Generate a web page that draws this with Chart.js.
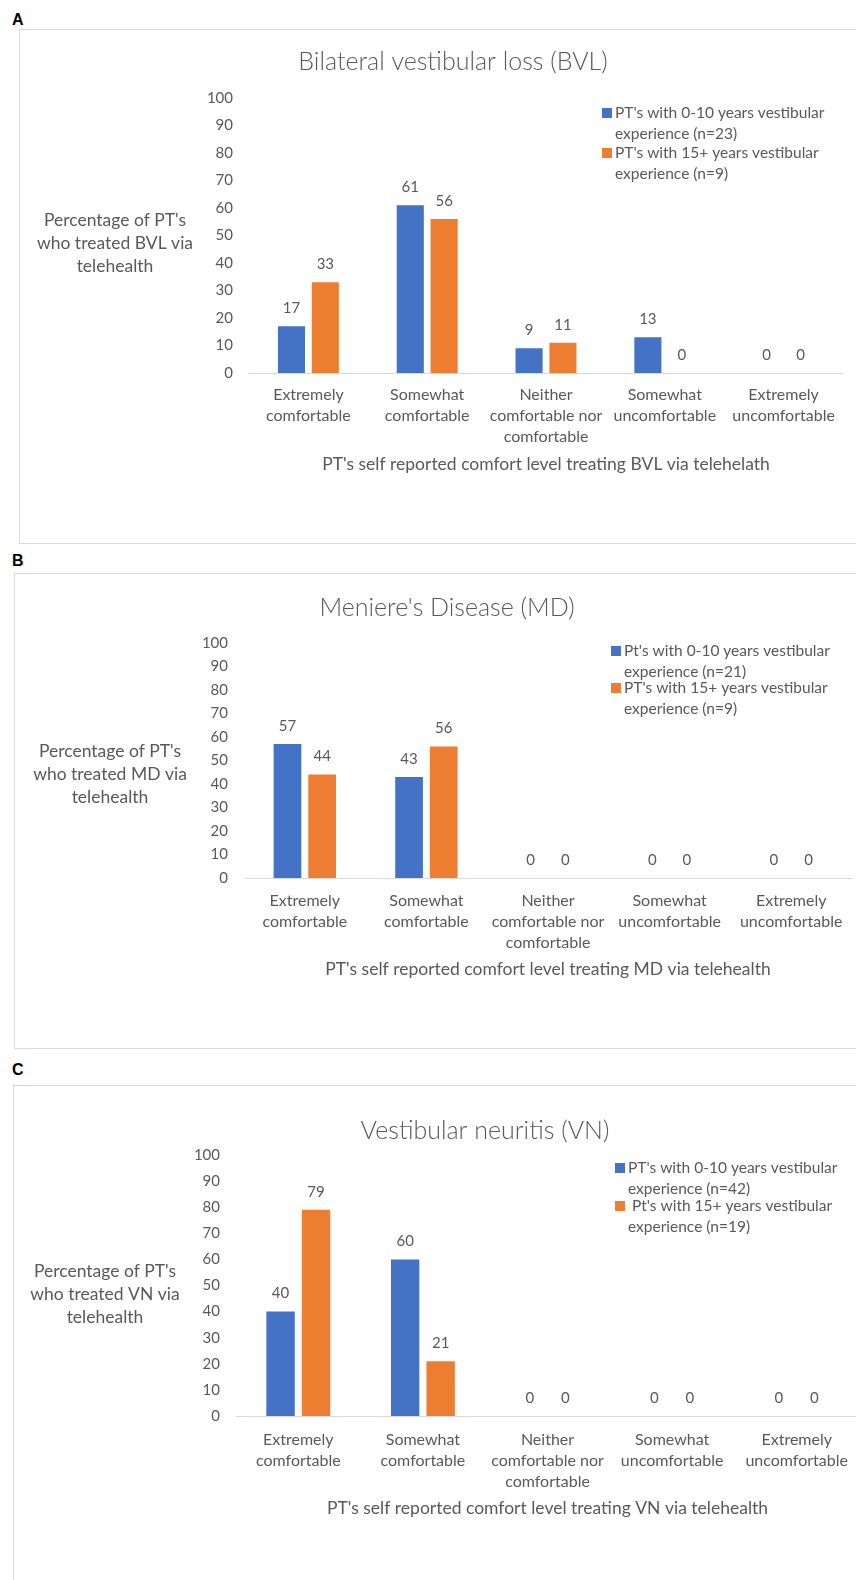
<!DOCTYPE html>
<html>
<head>
<meta charset="utf-8">
<title>PT comfort treating vestibular disorders via telehealth</title>
<script src="https://cdn.jsdelivr.net/npm/chart.js@4.4.1/dist/chart.umd.min.js"></script>
<style>
  html, body { margin: 0; padding: 0; background: #fff; }
  #page { position: relative; width: 856px; height: 1580px; overflow: hidden; }
  .tag { position: absolute; left: 12px; font: bold 16px "Liberation Sans", Arial, sans-serif; color: #000; line-height: 16px; }
  .box { position: absolute; right: -10px; border: 1px solid #d9d9d9; }
  canvas { position: absolute; left: 0; }
</style>
</head>
<body>
<div id="page"></div>
<script>
// categories shared by all three panels (multi-line tick labels)
const categories = [
  ["Extremely", "comfortable"],
  ["Somewhat", "comfortable"],
  ["Neither", "comfortable nor", "comfortable"],
  ["Somewhat", "uncomfortable"],
  ["Extremely", "uncomfortable"]
];

// A - bilateral vestibular loss
const bvlTitle = "Bilateral vestibular loss (BVL)";
const bvlYTitle = ["Percentage of PT's", "who treated BVL via", "telehealth"];
const bvlXTitle = "PT's self reported comfort level treating BVL via telehelath";
const bvlLegend = [
  ["PT's with 0-10 years vestibular", "experience (n=23)"],
  ["PT's with 15+ years vestibular", "experience (n=9)"]
];
const bvlJunior = [17, 61, 9, 13, 0];
const bvlSenior = [33, 56, 11, 0, 0];

// B - Meniere's disease
const mdTitle = "Meniere's Disease (MD)";
const mdYTitle = ["Percentage of PT's", "who treated MD via", "telehealth"];
const mdXTitle = "PT's self reported comfort level treating MD via telehealth";
const mdLegend = [
  ["Pt's with 0-10 years vestibular", "experience (n=21)"],
  ["PT's with 15+ years vestibular", "experience (n=9)"]
];
const mdJunior = [57, 43, 0, 0, 0];
const mdSenior = [44, 56, 0, 0, 0];

// C - vestibular neuritis
const vnTitle = "Vestibular neuritis (VN)";
const vnYTitle = ["Percentage of PT's", "who treated VN via", "telehealth"];
const vnXTitle = "PT's self reported comfort level treating VN via telehealth";
const vnLegend = [
  ["PT's with 0-10 years vestibular", "experience (n=42)"],
  [" Pt's with 15+ years vestibular", "experience (n=19)"]
];
const vnJunior = [40, 60, 0, 0, 0];
const vnSenior = [79, 21, 0, 0, 0];

const yMin = 0, yMax = 100, yStep = 10;

const FONT = "Lato, 'Open Sans', sans-serif";
const GRAY = "#595959";
const BLUE = "#4472C4";
const ORANGE = "#ED7D31";
const CANVAS_W = 870;

// page placement of each panel; plot box is relative to the panel canvas
const panels = [
  {
    tag: "A", tagTop: 12, box: { left: 19, top: 29, bottom: 542 },
    title: bvlTitle, yTitle: bvlYTitle, xTitle: bvlXTitle, legend: bvlLegend,
    series: [bvlJunior, bvlSenior],
    plot: { left: 249, right: 843, top: 69, bottom: 344 },
    titleX: 453, titleY: 33, yTitleX: 115, yTitleY: 214,
    legendX: 602, legendY: 84, legendStep: 40,
    tickGap: 22, xTitleGap: 91
  },
  {
    tag: "B", tagTop: 553, box: { left: 14, top: 573, bottom: 1047 },
    title: mdTitle, yTitle: mdYTitle, xTitle: mdXTitle, legend: mdLegend,
    series: [mdJunior, mdSenior],
    plot: { left: 244, right: 852, top: 70, bottom: 305 },
    titleX: 447, titleY: 35, yTitleX: 110, yTitleY: 201,
    legendX: 611, legendY: 78, legendStep: 37,
    tickGap: 23, xTitleGap: 91
  },
  {
    tag: "C", tagTop: 1062, box: { left: 13, top: 1085, bottom: 1600 },
    title: vnTitle, yTitle: vnYTitle, xTitle: vnXTitle, legend: vnLegend,
    series: [vnJunior, vnSenior],
    plot: { left: 236, right: 859, top: 70, bottom: 331 },
    titleX: 485, titleY: 46, yTitleX: 105, yTitleY: 209,
    legendX: 615, legendY: 83, legendStep: 38,
    tickGap: 24, xTitleGap: 92
  }
];

// title, horizontal y title, legend and value labels
const panelText = {
  id: "panelText",
  afterDatasetsDraw(chart, args, opts) {
    const ctx = chart.ctx;
    ctx.save();
    ctx.textBaseline = "middle";
    ctx.textAlign = "center";
    ctx.fillStyle = GRAY;

    ctx.font = "15px " + FONT;
    chart.data.datasets.forEach((ds, i) => {
      chart.getDatasetMeta(i).data.forEach((bar, j) => {
        ctx.fillText(String(ds.data[j]), bar.x, bar.y - 18);
      });
    });

    ctx.font = "300 25px " + FONT;
    ctx.fillText(opts.title, opts.titleX, opts.titleY);

    ctx.font = "17.5px " + FONT;
    const mid = (opts.yTitle.length - 1) / 2;
    opts.yTitle.forEach((line, k) => {
      ctx.fillText(line, opts.yTitleX, opts.yTitleY + (k - mid) * 23);
    });

    ctx.textAlign = "left";
    ctx.font = "15.5px " + FONT;
    chart.data.datasets.forEach((ds, i) => {
      const y0 = opts.legendY + i * opts.legendStep;
      ctx.fillStyle = ds.backgroundColor;
      ctx.fillRect(opts.legendX, y0 - 5, 10, 10);
      ctx.fillStyle = GRAY;
      opts.legend[i].forEach((line, k) => {
        ctx.fillText(line, opts.legendX + 13, y0 + k * 20.5);
      });
    });
    ctx.restore();
  }
};

const page = document.getElementById("page");

panels.forEach((p) => {
  const tag = document.createElement("div");
  tag.className = "tag";
  tag.style.top = p.tagTop + "px";
  tag.textContent = p.tag;
  page.appendChild(tag);

  const box = document.createElement("div");
  box.className = "box";
  box.style.left = p.box.left + "px";
  box.style.top = p.box.top + "px";
  box.style.height = (p.box.bottom - p.box.top) + "px";
  page.appendChild(box);

  const h = Math.min(p.box.bottom, 1580) - p.box.top;
  const canvas = document.createElement("canvas");
  canvas.width = CANVAS_W;
  canvas.height = h;
  canvas.style.top = p.box.top + "px";
  page.appendChild(canvas);

  const xTitleSize = 17.5, xTitleLH = 1.2;
  const xScaleHeight = p.xTitleGap + xTitleSize * xTitleLH / 2;
  const tickLH = 1.3, tickSize = 16;

  new Chart(canvas.getContext("2d"), {
    type: "bar",
    data: {
      labels: categories,
      datasets: p.legend.map((lines, i) => ({
        label: lines.join(" "),
        data: p.series[i],
        backgroundColor: i === 0 ? BLUE : ORANGE,
        borderWidth: 0,
        categoryPercentage: 0.57,
        barPercentage: 0.8
      }))
    },
    options: {
      responsive: false,
      animation: false,
      devicePixelRatio: 1,
      layout: {
        padding: {
          left: 0,
          top: p.plot.top,
          right: CANVAS_W - p.plot.right,
          bottom: h - p.plot.bottom - xScaleHeight
        }
      },
      plugins: {
        legend: { display: false },
        title: { display: false },
        tooltip: { enabled: false },
        panelText: {
          title: p.title, titleX: p.titleX, titleY: p.titleY,
          yTitle: p.yTitle, yTitleX: p.yTitleX, yTitleY: p.yTitleY,
          legend: p.legend, legendX: p.legendX, legendY: p.legendY, legendStep: p.legendStep
        }
      },
      scales: {
        x: {
          grid: { display: false, drawTicks: false },
          border: { display: true, color: "#d9d9d9", width: 1 },
          ticks: {
            color: GRAY,
            font: { family: FONT, size: tickSize, lineHeight: tickLH },
            padding: p.tickGap - tickSize * tickLH / 2,
            autoSkip: false,
            maxRotation: 0,
            minRotation: 0
          },
          title: {
            display: true,
            text: p.xTitle,
            color: GRAY,
            font: { family: FONT, size: xTitleSize, lineHeight: xTitleLH },
            padding: { top: 0, bottom: 0 }
          },
          afterFit(scale) { scale.height = xScaleHeight; }
        },
        y: {
          min: yMin,
          max: yMax,
          grid: { display: false, drawTicks: false },
          border: { display: false },
          ticks: {
            stepSize: yStep,
            color: GRAY,
            font: { family: FONT, size: 15 },
            padding: 16
          },
          afterFit(scale) { scale.width = p.plot.left; }
        }
      }
    },
    plugins: [panelText]
  });
});
</script>
</body>
</html>
